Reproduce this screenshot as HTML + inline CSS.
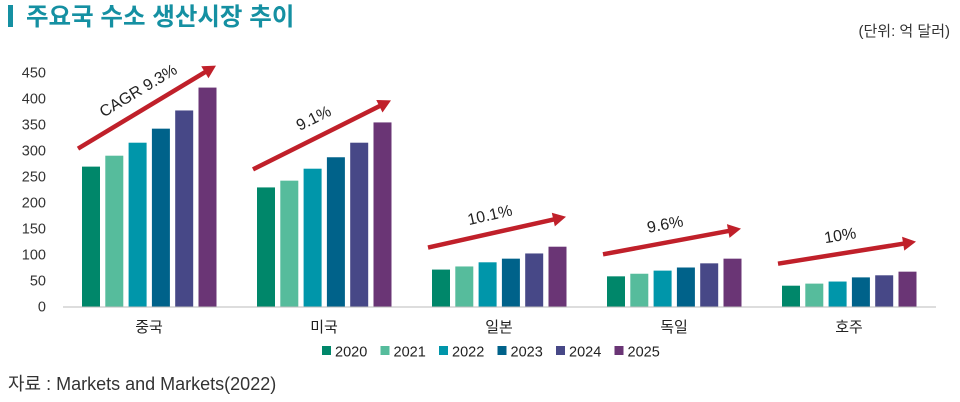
<!DOCTYPE html>
<html><head><meta charset="utf-8"><style>
body{margin:0;background:#fff;width:960px;height:402px;overflow:hidden;font-family:"Liberation Sans","Noto Sans CJK KR",sans-serif}
svg{display:block}
</style></head><body>
<svg id="c" width="960" height="402">
<rect x="8" y="5" width="5" height="22" fill="#1590a2"/>
<text x="26" y="25" font-size="24.5" font-weight="bold" fill="#1590a2" font-family="Liberation Sans, Noto Sans CJK KR, sans-serif">주요국 수소 생산시장 추이</text>
<text x="950" y="36" font-size="15" fill="#333" text-anchor="end">(단위: 억 달러)</text>
<text x="8" y="390" font-size="18" fill="#333">자료 : Markets and Markets(2022)</text>
<g id="plot"></g>
</svg>
<script>
const categories=["중국","미국","일본","독일","호주"];
const years=["2020","2021","2022","2023","2024","2025"];
const s2020=[269,229,71,58,40];
const s2021=[290,242,77,63,44];
const s2022=[315,265,85,69,48];
const s2023=[342,287,92,75,56];
const s2024=[377,315,102,83,60];
const s2025=[421,354,115,92,67];
const cagrLabels=["CAGR 9.3%","9.1%","10.1%","9.6%","10%"];
const yTicks=[0,50,100,150,200,250,300,350,400,450];

const series=[s2020,s2021,s2022,s2023,s2024,s2025];
const colors=["#00876a","#56bc9c","#0096aa","#00628a","#474887","#6a3575"];
const NS="http://www.w3.org/2000/svg";
const g=document.getElementById("plot");
const y0=306.5, pxPer=234/450;
const yS=v=>y0-v*pxPer;
const gx=i=>82+i*175;
const bx=(i,j)=>gx(i)+j*23.3;
function el(t,a){const e=document.createElementNS(NS,t);for(const k in a)e.setAttribute(k,a[k]);g.appendChild(e);return e;}
yTicks.forEach(t=>{const e=el("text",{x:46,y:yS(t)+5,"font-size":14.5,fill:"#333","text-anchor":"end"});e.textContent=t;

});
const ax=el("line",{x1:63,x2:936,y1:y0+0.5,y2:y0+0.5,stroke:"#bbb","stroke-width":1});


categories.forEach((c,i)=>{
 series.forEach((s,j)=>{
  const r=el("rect",{x:bx(i,j),y:yS(s[i]),width:18,height:y0-yS(s[i]),fill:colors[j]});
  
  
 });
 const cx=gx(i)+67;
 const t=el("text",{x:cx,y:332,"font-size":15,fill:"#222","text-anchor":"middle"});t.textContent=c;
 
 
 const x1=gx(i)-4, x2=gx(i)+134;
 const ya=yS(series[0][i])-18-(i<2?0:4), yb=yS(series[5][i])-22-(i<2?0:8);
 const ang=Math.atan2(yb-ya,x2-x1);
 const ln=el("line",{x1:x1,y1:ya,x2:x2-9*Math.cos(ang),y2:yb-9*Math.sin(ang),stroke:"#c0202a","stroke-width":4.5});
 
 
 const hx=x2,hy=yb,b=13,w=7;
 const p=[[hx,hy],[hx-b*Math.cos(ang)+w*Math.sin(ang),hy-b*Math.sin(ang)-w*Math.cos(ang)],[hx-b*Math.cos(ang)-w*Math.sin(ang),hy-b*Math.sin(ang)+w*Math.cos(ang)]];
 const ph=el("polygon",{points:p.map(q=>q.join(",")).join(" "),fill:"#c0202a"});
 
 
 const mx=(x1+x2)/2-6, my=(ya+yb)/2-12;
 const deg=ang*180/Math.PI;
 const lt=el("text",{x:mx,y:my,"font-size":16,fill:"#222","text-anchor":"middle",transform:`rotate(${deg} ${mx} ${my})`});
 lt.textContent=cagrLabels[i];
 
 
});
years.forEach((yr,j)=>{
 const lx=322+j*58.5;
 const r=el("rect",{x:lx,y:346,width:9,height:9,fill:colors[j]});
 
 
 const t=el("text",{x:lx+13,y:356.5,"font-size":14.5,fill:"#222"});t.textContent=yr;
 
 
});
</script>
</body></html>
